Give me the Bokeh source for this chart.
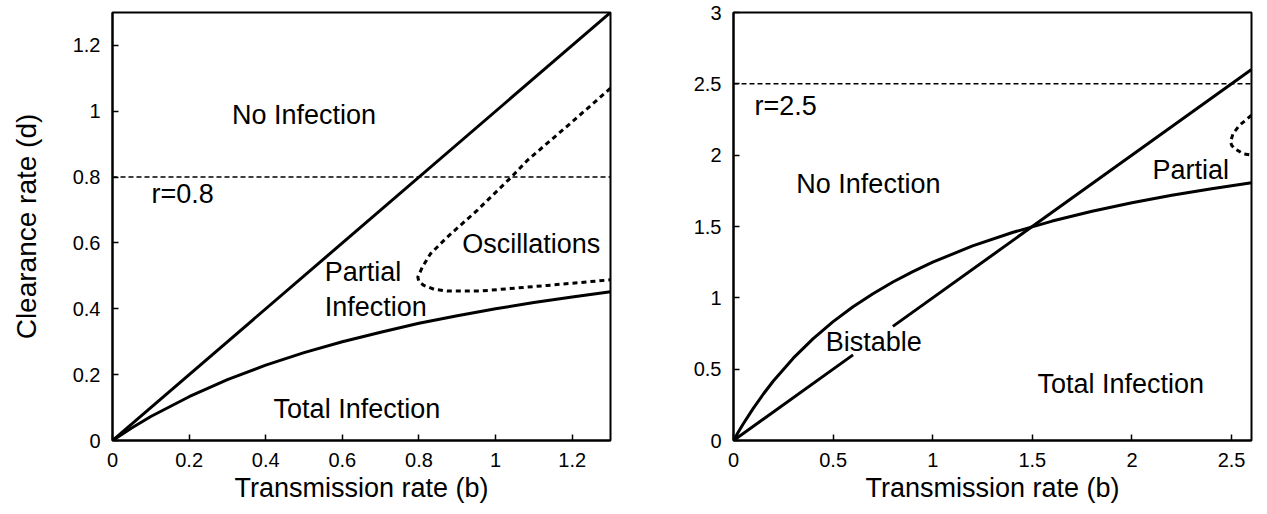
from bokeh.plotting import figure
from bokeh.layouts import row
from bokeh.models import Label, FixedTicker, NumeralTickFormatter, Span, Range1d
from bokeh.embed import file_html
from bokeh.resources import INLINE

FONT = "Liberation Sans"

# ---- Panel A: r = 0.8 ----
r_a = 0.8
a_xmax, a_ymax = 1.3, 1.3
# threshold d = b (no-infection boundary)
a_line_b = [0.0, 1.3]
a_line_d = [0.0, 1.3]
# total-infection boundary
a_curve_b = [0, 0.05, 0.1, 0.2, 0.3, 0.4, 0.5, 0.6, 0.7, 0.8, 0.9, 1.0, 1.1, 1.2, 1.3]
a_curve_d = [0, 0.038, 0.073, 0.133, 0.185, 0.229, 0.267, 0.300, 0.329, 0.356,
             0.379, 0.400, 0.419, 0.436, 0.452]
# onset of oscillations (Hopf boundary)
a_osc_b = [1.30, 1.20, 1.083, 1.041, 0.952, 0.874, 0.830, 0.809, 0.797, 0.800,
           0.813, 0.840, 0.874, 0.961, 1.135, 1.30]
a_osc_d = [1.070, 0.968, 0.851, 0.800, 0.699, 0.618, 0.567, 0.527, 0.496, 0.482,
           0.471, 0.459, 0.454, 0.454, 0.471, 0.488]
a_ticks_x = [0, 0.2, 0.4, 0.6, 0.8, 1.0, 1.2]
a_ticks_y = [0, 0.2, 0.4, 0.6, 0.8, 1.0, 1.2]

# ---- Panel B: r = 2.5 ----
r_b = 2.5
b_xmax, b_ymax = 2.6, 3.0
# threshold d = b, broken where the "Bistable" label sits
b_line_b = [[0.0, 0.6], [0.8, 2.6]]
b_line_d = [[0.0, 0.6], [0.8, 2.6]]
b_curve_b = [0, 0.025, 0.05, 0.1, 0.15, 0.2, 0.3, 0.4, 0.5, 0.6, 0.7, 0.8, 0.9,
             1.0, 1.2, 1.4, 1.6, 1.8, 2.0, 2.2, 2.4, 2.6]
b_curve_d = [0, 0.061, 0.119, 0.227, 0.326, 0.417, 0.577, 0.714, 0.833, 0.938,
             1.029, 1.111, 1.184, 1.250, 1.364, 1.458, 1.538, 1.607, 1.667,
             1.719, 1.765, 1.806]
b_osc_b = [2.60, 2.575, 2.54, 2.507, 2.495, 2.50, 2.515, 2.557, 2.60]
b_osc_d = [2.28, 2.25, 2.21, 2.15, 2.093, 2.07, 2.047, 2.01, 2.00]
b_ticks_x = [0, 0.5, 1.0, 1.5, 2.0, 2.5]
b_ticks_y = [0, 0.5, 1.0, 1.5, 2.0, 2.5, 3.0]


def make_panel(width, xmax, ymax, xticks, yticks, border_left, border_right, ylabel=None):
    p = figure(width=width, height=514, x_range=Range1d(0, xmax), y_range=Range1d(0, ymax),
               output_backend="svg", toolbar_location=None,
               min_border_left=border_left, min_border_right=border_right,
               min_border_top=12, min_border_bottom=74)
    p.grid.visible = False
    p.background_fill_color = "white"
    p.border_fill_color = "white"
    p.outline_line_color = "black"
    p.outline_line_width = 2
    p.outline_line_alpha = 1.0
    p.xaxis.ticker = FixedTicker(ticks=xticks)
    p.yaxis.ticker = FixedTicker(ticks=yticks)
    for ax in (p.xaxis, p.yaxis):
        ax.formatter = NumeralTickFormatter(format="0.[0]")
        ax.axis_line_width = 2
        ax.axis_line_color = "black"
        ax.major_tick_in = 6
        ax.major_tick_out = 0
        ax.major_tick_line_width = 1.5
        ax.major_tick_line_color = "black"
        ax.minor_tick_line_color = None
        ax.major_label_text_font = FONT
        ax.major_label_text_font_size = "20px"
        ax.major_label_text_color = "black"
        ax.major_label_standoff = 12
        ax.axis_label_text_font = FONT
        ax.axis_label_text_font_size = "27px"
        ax.axis_label_text_font_style = "normal"
        ax.axis_label_text_color = "black"
    p.xaxis.major_label_standoff = 12
    p.xaxis.axis_label = "Transmission rate (b)"
    p.xaxis.axis_label_standoff = 3
    if ylabel:
        p.yaxis.axis_label = ylabel
        p.yaxis.axis_label_standoff = 28
        p.yaxis.axis_label_text_font_size = "28px"
    return p


def add_label(p, x, y, text, align="center", size="27px"):
    p.add_layout(Label(x=x, y=y, text=text, text_align=align, text_baseline="middle",
                       text_font=FONT, text_font_size=size, text_color="black"))


# Panel A
pa = make_panel(640, a_xmax, a_ymax, a_ticks_x, a_ticks_y, 112, 30, "Clearance rate (d)")
pa.add_layout(Span(location=r_a, dimension="width", line_color="black",
                   line_width=1.5, line_dash="5 3"))
pa.line(a_line_b, a_line_d, line_color="black", line_width=3)
pa.line(a_curve_b, a_curve_d, line_color="black", line_width=3)
pa.line(a_osc_b, a_osc_d, line_color="black", line_width=3, line_dash="5 4")
add_label(pa, 0.50, 0.988, "No Infection")
add_label(pa, 0.102, 0.748, f"r={r_a}", align="left")
add_label(pa, 1.093, 0.596, "Oscillations")
add_label(pa, 0.554, 0.511, "Partial", align="left")
add_label(pa, 0.554, 0.407, "Infection", align="left")
add_label(pa, 0.638, 0.097, "Total Infection")

# Panel B
pb = make_panel(627, b_xmax, b_ymax, b_ticks_x, b_ticks_y, 93, 16)
pb.add_layout(Span(location=r_b, dimension="width", line_color="black",
                   line_width=1.5, line_dash="5 3"))
pb.multi_line(b_line_b, b_line_d, line_color="black", line_width=3)
pb.line(b_curve_b, b_curve_d, line_color="black", line_width=3)
pb.line(b_osc_b, b_osc_d, line_color="black", line_width=3, line_dash="5 4")
add_label(pb, 0.105, 2.343, f"r={r_b}", align="left")
add_label(pb, 0.677, 1.80, "No Infection")
add_label(pb, 2.295, 1.895, "Partial")
add_label(pb, 0.704, 0.692, "Bistable")
add_label(pb, 1.944, 0.399, "Total Infection")

layout = row(pa, pb)
open("out.html", "w").write(file_html(layout, INLINE))
